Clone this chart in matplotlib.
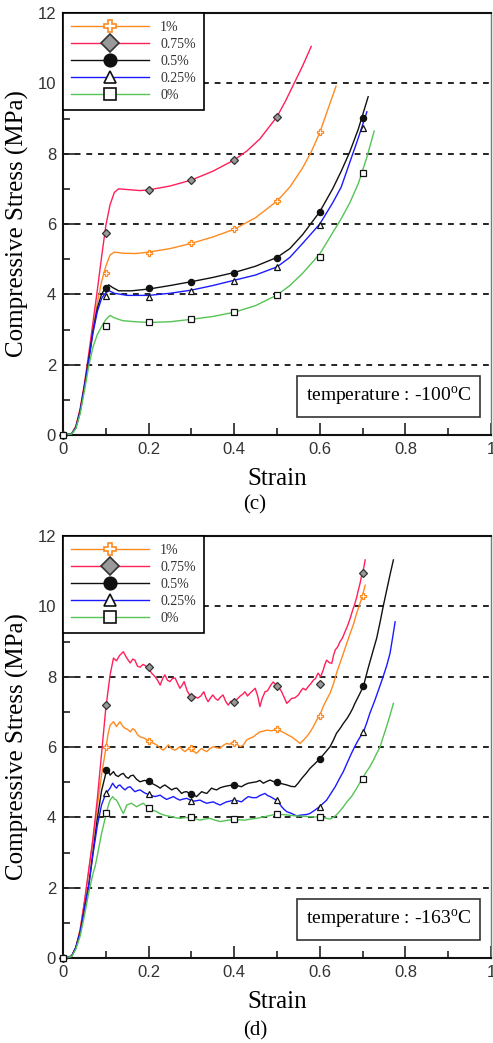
import matplotlib
matplotlib.use("Agg")
import matplotlib.pyplot as plt
from matplotlib.lines import Line2D

plt.rcParams['font.family'] = ['Liberation Serif', 'DejaVu Serif']
plt.rcParams['mathtext.fontset'] = 'custom'
plt.rcParams['mathtext.rm'] = 'Liberation Serif'

# legend entries, top to bottom
labels = ['1%', '0.75%', '0.5%', '0.25%', '0%']
colors = ['#ff8a1f', '#ff1f5a', '#111111', '#1a1aff', '#55c455']
markers = ['P', 'D', 'o', '^', 's']
mfaces = ['white', '#999999', '#111111', 'white', 'white']
medges = ['#ff8a1f', '#333333', '#111111', '#111111', '#111111']

# strain at which the symbols sit
mark_strain = [0, 0.1, 0.2, 0.3, 0.4, 0.5, 0.6, 0.7]

# ---- (c) -100 C : (strain, stress MPa)
c_1pct = [(0, 0), (0.02, 0.03), (0.03, 0.22), (0.04, 0.7), (0.05, 1.4), (0.06, 2.2), (0.07, 3.0),
          (0.08, 3.75), (0.09, 4.35), (0.10, 4.8), (0.11, 5.12), (0.12, 5.2), (0.14, 5.17), (0.17, 5.16),
          (0.2, 5.2), (0.25, 5.3), (0.3, 5.45), (0.35, 5.63), (0.4, 5.85), (0.45, 6.18), (0.5, 6.65),
          (0.53, 7.05), (0.56, 7.6), (0.58, 8.05), (0.6, 8.6), (0.62, 9.3), (0.638, 9.92)]
c_075pct = [(0, 0), (0.02, 0.03), (0.03, 0.25), (0.04, 0.75), (0.05, 1.45), (0.06, 2.3), (0.07, 3.2),
            (0.08, 4.1), (0.09, 5.05), (0.10, 5.95), (0.11, 6.55), (0.12, 6.9), (0.13, 7.0), (0.15, 6.98),
            (0.18, 6.95), (0.2, 6.97), (0.25, 7.08), (0.3, 7.25), (0.35, 7.5), (0.4, 7.82), (0.43, 8.08),
            (0.46, 8.42), (0.5, 9.05), (0.52, 9.5), (0.54, 10.0), (0.56, 10.5), (0.58, 11.05)]
c_05pct = [(0, 0), (0.02, 0.03), (0.03, 0.22), (0.04, 0.68), (0.05, 1.38), (0.06, 2.15), (0.07, 2.95),
           (0.08, 3.6), (0.09, 4.0), (0.1, 4.2), (0.107, 4.27), (0.115, 4.2), (0.13, 4.1), (0.16, 4.1),
           (0.2, 4.15), (0.25, 4.25), (0.3, 4.36), (0.35, 4.48), (0.4, 4.62), (0.45, 4.8), (0.5, 5.05),
           (0.53, 5.3), (0.56, 5.7), (0.6, 6.35), (0.63, 7.0), (0.65, 7.5), (0.67, 8.05), (0.69, 8.7),
           (0.713, 9.62)]
c_025pct = [(0, 0), (0.02, 0.03), (0.03, 0.2), (0.04, 0.65), (0.05, 1.35), (0.06, 2.1), (0.07, 2.9),
            (0.08, 3.5), (0.09, 3.88), (0.1, 4.05), (0.108, 4.1), (0.12, 4.03), (0.15, 3.97), (0.2, 3.97),
            (0.25, 4.03), (0.3, 4.12), (0.35, 4.25), (0.4, 4.4), (0.45, 4.55), (0.5, 4.78), (0.53, 5.05),
            (0.56, 5.45), (0.6, 6.0), (0.63, 6.6), (0.65, 7.05), (0.67, 7.75), (0.69, 8.45), (0.71, 9.19)]
c_0pct = [(0, 0), (0.02, 0.03), (0.03, 0.18), (0.04, 0.6), (0.05, 1.25), (0.06, 1.95), (0.07, 2.5),
          (0.08, 2.85), (0.09, 3.08), (0.1, 3.28), (0.11, 3.4), (0.12, 3.33), (0.14, 3.25), (0.17, 3.22),
          (0.2, 3.2), (0.25, 3.22), (0.3, 3.29), (0.35, 3.37), (0.4, 3.49), (0.45, 3.68), (0.5, 3.98),
          (0.53, 4.25), (0.56, 4.6), (0.6, 5.15), (0.63, 5.75), (0.65, 6.15), (0.67, 6.6), (0.69, 7.15),
          (0.71, 7.9), (0.727, 8.64)]

c_1pct_marks = [0, 4.62, 5.18, 5.45, 5.85, 6.65, 8.62]
c_075pct_marks = [0, 5.75, 6.97, 7.25, 7.82, 9.05]
c_05pct_marks = [0, 4.17, 4.17, 4.36, 4.62, 5.04, 6.34, 9.02]
c_025pct_marks = [0, 3.95, 3.93, 4.1, 4.38, 4.77, 5.97, 8.72]
c_0pct_marks = [0, 3.1, 3.2, 3.29, 3.49, 3.98, 5.07, 7.46]

# ---- (d) -163 C
d_1pct = [(0, 0), (0.02, 0.05), (0.03, 0.3), (0.04, 0.8), (0.05, 1.55), (0.06, 2.45), (0.07, 3.35),
          (0.08, 4.3), (0.09, 5.2), (0.1, 5.95), (0.105, 6.35), (0.11, 6.62), (0.118, 6.72), (0.125, 6.58),
          (0.133, 6.72), (0.139, 6.6), (0.145, 6.53), (0.151, 6.5), (0.157, 6.43), (0.163, 6.52),
          (0.168, 6.48), (0.174, 6.35), (0.18, 6.29), (0.19, 6.25), (0.199, 6.18), (0.209, 6.12),
          (0.219, 6.06), (0.226, 5.98), (0.234, 5.91), (0.24, 5.98), (0.246, 6.06), (0.254, 5.95),
          (0.262, 5.91), (0.268, 5.96), (0.273, 6.01), (0.279, 5.92), (0.285, 5.87), (0.291, 5.93),
          (0.298, 5.96), (0.305, 5.88), (0.312, 5.82), (0.318, 5.9), (0.324, 5.96), (0.33, 5.9),
          (0.336, 5.87), (0.343, 5.95), (0.351, 6.01), (0.359, 5.98), (0.367, 5.96), (0.375, 6.05),
          (0.382, 6.1), (0.39, 6.08), (0.398, 6.15), (0.406, 6.08), (0.414, 6.01), (0.421, 6.05),
          (0.429, 6.2), (0.437, 6.25), (0.445, 6.29), (0.452, 6.36), (0.46, 6.43), (0.468, 6.45),
          (0.476, 6.48), (0.487, 6.46), (0.499, 6.5), (0.509, 6.45), (0.519, 6.39), (0.527, 6.33),
          (0.534, 6.29), (0.544, 6.2), (0.554, 6.1), (0.562, 6.2), (0.569, 6.29), (0.577, 6.42),
          (0.585, 6.58), (0.592, 6.75), (0.6, 6.9), (0.608, 7.15), (0.616, 7.35), (0.624, 7.53),
          (0.632, 7.8), (0.639, 8.1), (0.647, 8.38), (0.655, 8.66), (0.663, 8.95), (0.671, 9.23),
          (0.679, 9.5), (0.686, 9.8), (0.693, 10.05), (0.7, 10.32), (0.706, 10.6)]
d_075pct = [(0, 0), (0.02, 0.05), (0.03, 0.3), (0.04, 0.8), (0.05, 1.6), (0.06, 2.5), (0.07, 3.4),
            (0.08, 4.5), (0.09, 5.8), (0.1, 7.1), (0.11, 8.05), (0.118, 8.53), (0.125, 8.45),
            (0.132, 8.6), (0.141, 8.71), (0.148, 8.55), (0.157, 8.39), (0.163, 8.5), (0.168, 8.47),
            (0.174, 8.3), (0.18, 8.27), (0.187, 8.35), (0.199, 8.26), (0.207, 8.1), (0.215, 8.0),
            (0.221, 7.9), (0.227, 7.76), (0.233, 7.95), (0.238, 8.05), (0.244, 7.9), (0.25, 7.86),
            (0.256, 7.95), (0.262, 7.96), (0.268, 7.8), (0.273, 7.67), (0.278, 7.75), (0.283, 7.86),
            (0.29, 7.6), (0.298, 7.43), (0.305, 7.45), (0.315, 7.39), (0.322, 7.45), (0.329, 7.57),
            (0.334, 7.4), (0.339, 7.29), (0.345, 7.4), (0.35, 7.48), (0.356, 7.38), (0.362, 7.33),
            (0.368, 7.42), (0.374, 7.48), (0.38, 7.3), (0.386, 7.19), (0.392, 7.3), (0.398, 7.29),
            (0.406, 7.35), (0.414, 7.45), (0.42, 7.5), (0.425, 7.57), (0.431, 7.45), (0.437, 7.53),
            (0.443, 7.6), (0.449, 7.67), (0.455, 7.45), (0.46, 7.15), (0.466, 7.4), (0.472, 7.57),
            (0.478, 7.6), (0.485, 7.75), (0.491, 7.85), (0.499, 7.75), (0.505, 7.68), (0.511, 7.57),
            (0.517, 7.4), (0.523, 7.24), (0.528, 7.3), (0.534, 7.38), (0.542, 7.4), (0.55, 7.48),
            (0.556, 7.6), (0.561, 7.67), (0.567, 7.62), (0.573, 7.72), (0.579, 7.8), (0.585, 7.9),
            (0.59, 7.95), (0.596, 8.1), (0.602, 8.0), (0.608, 8.19), (0.612, 8.35), (0.616, 8.47),
            (0.622, 8.4), (0.628, 8.38), (0.632, 8.6), (0.636, 8.76), (0.642, 8.85), (0.647, 8.99),
            (0.653, 9.1), (0.659, 9.28), (0.665, 9.45), (0.671, 9.66), (0.677, 9.9), (0.682, 10.08),
            (0.686, 10.25), (0.69, 10.46), (0.694, 10.65), (0.698, 10.89), (0.702, 11.05), (0.706, 11.32)]
d_05pct = [(0, 0), (0.02, 0.05), (0.03, 0.3), (0.04, 0.72), (0.05, 1.4), (0.06, 2.05), (0.07, 3.0),
           (0.08, 3.95), (0.09, 4.75), (0.1, 5.25), (0.105, 5.35), (0.11, 5.2), (0.118, 5.3), (0.123, 5.2),
           (0.129, 5.16), (0.135, 5.22), (0.141, 5.25), (0.147, 5.15), (0.153, 5.11), (0.158, 5.18),
           (0.164, 5.2), (0.172, 5.08), (0.18, 5.01), (0.19, 5.05), (0.199, 5.03), (0.207, 4.97),
           (0.215, 4.92), (0.221, 4.88), (0.227, 4.83), (0.232, 4.88), (0.238, 4.92), (0.246, 4.85),
           (0.254, 4.78), (0.26, 4.82), (0.266, 4.83), (0.272, 4.75), (0.277, 4.68), (0.283, 4.72),
           (0.289, 4.73), (0.296, 4.67), (0.303, 4.65), (0.308, 4.62), (0.312, 4.59), (0.318, 4.66),
           (0.324, 4.73), (0.33, 4.7), (0.336, 4.68), (0.342, 4.76), (0.347, 4.83), (0.353, 4.8),
           (0.359, 4.78), (0.367, 4.84), (0.375, 4.87), (0.386, 4.9), (0.398, 4.92), (0.408, 4.9),
           (0.417, 4.87), (0.425, 4.93), (0.433, 4.97), (0.442, 4.99), (0.452, 5.01), (0.46, 5.05),
           (0.468, 4.97), (0.476, 5.02), (0.484, 5.06), (0.491, 5.02), (0.499, 5.01), (0.51, 4.96),
           (0.523, 4.92), (0.533, 4.88), (0.542, 4.87), (0.55, 4.98), (0.558, 5.11), (0.568, 5.25),
           (0.577, 5.39), (0.588, 5.52), (0.599, 5.65), (0.611, 5.82), (0.624, 6.01), (0.632, 6.2),
           (0.639, 6.39), (0.647, 6.52), (0.655, 6.67), (0.663, 6.8), (0.671, 6.96), (0.677, 7.1),
           (0.682, 7.24), (0.692, 7.48), (0.702, 7.73), (0.712, 8.2), (0.725, 8.76), (0.733, 9.1),
           (0.741, 9.56), (0.748, 9.99), (0.757, 10.5), (0.765, 10.95), (0.772, 11.32)]
d_025pct = [(0, 0), (0.02, 0.05), (0.03, 0.3), (0.04, 0.72), (0.05, 1.4), (0.06, 2.05), (0.07, 2.95),
            (0.08, 3.75), (0.09, 4.35), (0.1, 4.68), (0.105, 4.75), (0.11, 4.83), (0.116, 4.97),
            (0.121, 4.88), (0.125, 4.83), (0.129, 4.9), (0.133, 4.92), (0.139, 4.84), (0.145, 4.78),
            (0.151, 4.85), (0.157, 4.87), (0.163, 4.79), (0.168, 4.73), (0.174, 4.76), (0.18, 4.78),
            (0.19, 4.7), (0.199, 4.65), (0.207, 4.62), (0.215, 4.59), (0.221, 4.61), (0.227, 4.63),
            (0.235, 4.56), (0.242, 4.51), (0.25, 4.55), (0.258, 4.59), (0.266, 4.53), (0.273, 4.49),
            (0.281, 4.52), (0.289, 4.54), (0.296, 4.5), (0.303, 4.46), (0.311, 4.47), (0.32, 4.49),
            (0.328, 4.44), (0.336, 4.4), (0.343, 4.42), (0.351, 4.44), (0.359, 4.39), (0.367, 4.35),
            (0.375, 4.4), (0.382, 4.44), (0.39, 4.46), (0.398, 4.49), (0.408, 4.47), (0.417, 4.44),
            (0.425, 4.52), (0.433, 4.59), (0.442, 4.56), (0.452, 4.56), (0.46, 4.62), (0.468, 4.66),
            (0.472, 4.68), (0.478, 4.62), (0.484, 4.59), (0.491, 4.54), (0.498, 4.49), (0.505, 4.4),
            (0.511, 4.3), (0.517, 4.22), (0.523, 4.16), (0.534, 4.11), (0.546, 4.04), (0.554, 4.06),
            (0.561, 4.07), (0.569, 4.08), (0.577, 4.11), (0.588, 4.2), (0.599, 4.3), (0.608, 4.4),
            (0.616, 4.49), (0.626, 4.68), (0.636, 4.87), (0.645, 5.08), (0.655, 5.3), (0.664, 5.55),
            (0.674, 5.82), (0.682, 6.02), (0.69, 6.2), (0.696, 6.32), (0.702, 6.43), (0.71, 6.7),
            (0.717, 6.96), (0.724, 7.18), (0.729, 7.34), (0.738, 7.65), (0.748, 8.0), (0.756, 8.3),
            (0.764, 8.66), (0.77, 9.1), (0.776, 9.56)]
d_0pct = [(0, 0), (0.02, 0.04), (0.03, 0.25), (0.04, 0.62), (0.05, 1.2), (0.06, 1.85), (0.07, 2.4),
          (0.075, 2.6), (0.08, 2.9), (0.09, 3.54), (0.1, 4.05), (0.105, 4.3), (0.11, 4.49), (0.116, 4.59),
          (0.12, 4.52), (0.125, 4.49), (0.129, 4.4), (0.133, 4.3), (0.137, 4.2), (0.141, 4.11),
          (0.145, 4.22), (0.149, 4.35), (0.155, 4.38), (0.16, 4.4), (0.166, 4.35), (0.172, 4.3),
          (0.18, 4.36), (0.188, 4.4), (0.194, 4.32), (0.199, 4.27), (0.209, 4.21), (0.219, 4.16),
          (0.226, 4.11), (0.234, 4.07), (0.244, 4.04), (0.254, 4.02), (0.263, 3.99), (0.273, 3.97),
          (0.285, 3.99), (0.298, 4.0), (0.309, 3.96), (0.32, 3.92), (0.331, 3.95), (0.343, 3.97),
          (0.355, 3.92), (0.367, 3.88), (0.382, 3.91), (0.398, 3.94), (0.41, 3.93), (0.425, 3.92),
          (0.438, 3.95), (0.452, 3.97), (0.464, 4.0), (0.476, 4.03), (0.487, 4.06), (0.498, 4.09),
          (0.51, 4.08), (0.523, 4.07), (0.535, 4.05), (0.546, 4.04), (0.561, 4.03), (0.577, 4.02),
          (0.588, 4.01), (0.6, 4.0), (0.612, 3.98), (0.624, 3.95), (0.632, 4.0), (0.639, 4.07),
          (0.647, 4.18), (0.655, 4.3), (0.664, 4.45), (0.674, 4.59), (0.686, 4.82), (0.698, 5.08),
          (0.708, 5.28), (0.717, 5.44), (0.725, 5.62), (0.733, 5.82), (0.741, 6.01), (0.748, 6.28),
          (0.756, 6.58), (0.764, 6.9), (0.772, 7.24)]

d_1pct_marks = [0, 6.01, 6.18, 5.96, 6.12, 6.5, 6.88, 10.3]
d_075pct_marks = [0, 7.19, 8.27, 7.43, 7.29, 7.73, 7.79, 10.96]
d_05pct_marks = [0, 5.35, 5.03, 4.65, 4.93, 5.0, 5.65, 7.73]
d_025pct_marks = [0, 4.68, 4.65, 4.46, 4.5, 4.49, 4.3, 6.43]
d_0pct_marks = [0, 4.11, 4.27, 4.0, 3.94, 4.09, 4.0, 5.08]

grid_levels = [2, 4, 6, 8, 10]


def draw_panel(ax, curves, marks, temp_text):
    for level in grid_levels:
        ax.axhline(level, color='black', lw=1.2, ls=(0, (3.5, 3.5)), zorder=1)

    for i in range(len(curves)):
        xs, ys = zip(*curves[i])
        ax.plot(xs, ys, color=colors[i], lw=1.0, zorder=3)
        ax.plot(mark_strain[:len(marks[i])], marks[i], ls='none', marker=markers[i],
                ms=4.5, mfc=mfaces[i], mec=medges[i], mew=0.9, zorder=4, clip_on=False)

    ax.set_xlim(0, 1)
    ax.set_ylim(0, 12)
    ax.set_xticks([0, 0.2, 0.4, 0.6, 0.8, 1])
    ax.set_xticklabels(['0', '0.2', '0.4', '0.6', '0.8', '1'])
    ax.set_xticks([0.1, 0.3, 0.5, 0.7, 0.9], minor=True)
    ax.set_yticks([0, 2, 4, 6, 8, 10, 12])
    ax.set_yticks([1, 3, 5, 7, 9, 11], minor=True)
    ax.tick_params(which='both', direction='in', top=False, right=False, width=1.2, colors='#222222')
    ax.tick_params(which='major', length=9, pad=5, labelsize=12)
    ax.tick_params(which='minor', length=5)
    for lab in ax.get_xticklabels() + ax.get_yticklabels():
        lab.set_family('Liberation Sans')
        lab.set_color('#333333')

    for side in ['left', 'bottom', 'top']:
        ax.spines[side].set_linewidth(1.5)
        ax.spines[side].set_color('#111111')
    ax.spines['right'].set_linewidth(1.0)
    ax.spines['right'].set_color('#777777')

    ax.set_xlabel('Strain', fontsize=18, labelpad=8)
    ax.set_ylabel('Compressive Stress (MPa)', fontsize=18, labelpad=6)

    handles = []
    for i in range(len(labels)):
        handles.append(Line2D([0], [0], color=colors[i], lw=1.0, marker=markers[i], ms=9,
                              mfc=mfaces[i], mec=medges[i], mew=1.2))
    leg = ax.legend(handles, labels, loc='upper left', bbox_to_anchor=(0, 1), borderaxespad=0,
                    fontsize=10, handlelength=5.6, handletextpad=0.8, labelspacing=0.28,
                    borderpad=0.6, fancybox=False, framealpha=1, edgecolor='black')
    leg.get_frame().set_linewidth(1.2)
    for t in leg.get_texts():
        t.set_color('#333333')
    leg.set_zorder(6)

    ax.text(0.76, 0.092, temp_text, transform=ax.transAxes, ha='center', va='center', fontsize=14,
            zorder=6, bbox=dict(boxstyle='square,pad=0.45', fc='white', ec='#333333', lw=1.2))


fig = plt.figure(figsize=(4.93, 10.43), dpi=100)
ax_c = fig.add_axes([63 / 493, 1 - 435 / 1043, 428 / 493, 422 / 1043])
ax_d = fig.add_axes([63 / 493, 1 - 958 / 1043, 428 / 493, 422 / 1043])

draw_panel(ax_c, [c_1pct, c_075pct, c_05pct, c_025pct, c_0pct],
           [c_1pct_marks, c_075pct_marks, c_05pct_marks, c_025pct_marks, c_0pct_marks],
           r'temperature : -100$^\mathrm{o}$C')
draw_panel(ax_d, [d_1pct, d_075pct, d_05pct, d_025pct, d_0pct],
           [d_1pct_marks, d_075pct_marks, d_05pct_marks, d_025pct_marks, d_0pct_marks],
           r'temperature : -163$^\mathrm{o}$C')

fig.text(255 / 493, 1 - 505 / 1043, '(c)', ha='center', va='center', fontsize=15)
fig.text(255 / 493, 1 - 1031 / 1043, '(d)', ha='center', va='center', fontsize=15)

fig.savefig('out.png', dpi=100)
